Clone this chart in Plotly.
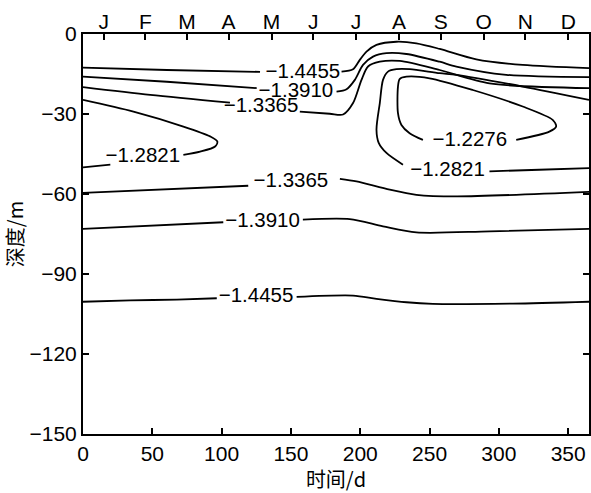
import plotly.graph_objects as go

# ---- contour levels and labels ----
levels = ["−1.4455", "−1.3910", "−1.3365", "−1.2821", "−1.2276"]

# ---- isolines (day, depth); None = break at label ----
l14455_top_x = [0, 60.5, 127.7, None, 186.5, 194.8, 199.7, 204.5, 211.7, 226.1, 240.5, 257.3, 283.7, 317.2, 365]
l14455_top_y = [-12.6, -13.5, -14.2, None, -14.1, -13.2, -9.7, -6.6, -4.1, -2.9, -3.5, -5.6, -9.5, -11.6, -12.8]

l13910_top_x = [0, 60.5, 125.3, None, 182.9, 190.1, 196.1, 202.0, 209.2, 218.9, 233.3, 257.3, 269.3, 305.3, 365]
l13910_top_y = [-16.0, -17.9, -20.3, None, -21.6, -20.7, -17.2, -11.6, -8.5, -7.2, -7.5, -10.4, -12.2, -15.3, -16.2]

l13365_top_x = [0, 48.5, 106, None, 156.4, 178.0, 187.6, 194.8, 200.9, 205.6, 214.1, 228.5, 257.3, 293.2, 365]
l13365_top_y = [-19.9, -22.8, -25.7, None, -29.1, -29.9, -30.2, -25.9, -17.2, -12.2, -10.4, -10.1, -13.5, -18.5, -20.3]

l12821_left_x = [0, 36.4, 72.4, 91.7, 96.9, 95.3, 84.5, 72.4, None, 19.7, 0]
l12821_left_y = [-24.7, -29.1, -34.7, -38.4, -40.3, -42.2, -44.1, -45.3, None, -49.0, -50.0]

l12821_right_x = [365, 317.2, 269.3, 257.3, 235.7, 226.1, 220.0, 216.4, 214.1, 211.7, 213.3, 218.9, 230.8, None, 293.2, 329.2, 365]
l12821_right_y = [-24.7, -19.7, -15.3, -14.7, -13.2, -13.2, -14.1, -17.2, -25.9, -35.9, -40.8, -44.6, -49.0, None, -51.5, -50.9, -50.3]

l12276_x = [312.5, 336.4, 341.3, 338.8, 317.2, 281.2, 250.0, 233.3, 228.4, 227.2, 227.2, 229.7, 235.6, 245.2]
l12276_y = [-39.7, -36.6, -34.7, -32.2, -27.2, -21.0, -16.6, -16.0, -16.9, -19.7, -29.7, -34.1, -37.2, -39.7]

l13365_low_x = [0, 119.2, None, 185.3, 197.3, 221.3, 240.5, 269.3, 365]
l13365_low_y = [-59.6, -56.9, None, -54.3, -55.3, -58.4, -60.3, -60.9, -59.2]

l13910_low_x = [0, 101.2, None, 158.6, 192.4, 216.4, 240.5, 293.2, 365]
l13910_low_y = [-73.1, -70.6, None, -69.6, -69.4, -72.1, -74.4, -74.0, -73.1]

l14455_low_x = [0, 34.1, 67.7, 96.5, None, 154.1, 194.8, 211.7, 233.3, 252.4, 310.0, 365]
l14455_low_y = [-100.4, -99.9, -99.6, -99.1, None, -98.6, -98.1, -99.3, -100.6, -101.2, -101.1, -100.4]

# ---- label positions (day, depth, text) ----
label_x = [158.6, 153.6, 128.4, 43.1, 263.0, 279.0, 150.0, 129.5, 124.8]
label_y = [-14.5, -21.6, -27.4, -45.9, -51.5, -39.9, -55.4, -70.4, -98.6]
label_t = [levels[0], levels[1], levels[2], levels[3], levels[3], levels[4], levels[2], levels[1], levels[0]]

# ---- axes ----
x_ticks = [0, 50, 100, 150, 200, 250, 300, 350]
y_ticks = [0, -30, -60, -90, -120, -150]
month_days = [15, 45, 75, 105, 136, 166, 197, 228, 258, 289, 319, 350]
month_labels = ["J", "F", "M", "A", "M", "J", "J", "A", "S", "O", "N", "D"]

FONT = "Liberation Sans, Arial, sans-serif"
CJK = "Noto Sans CJK SC, Liberation Sans, sans-serif"

fig = go.Figure()
lines = [
    (l14455_top_x, l14455_top_y), (l13910_top_x, l13910_top_y), (l13365_top_x, l13365_top_y),
    (l12821_left_x, l12821_left_y), (l12821_right_x, l12821_right_y), (l12276_x, l12276_y),
    (l13365_low_x, l13365_low_y), (l13910_low_x, l13910_low_y), (l14455_low_x, l14455_low_y),
]
for xs, ys in lines:
    fig.add_trace(go.Scatter(x=xs, y=ys, mode="lines",
                             line=dict(color="black", width=1.8, shape="spline", smoothing=0.8),
                             connectgaps=False, showlegend=False, hoverinfo="skip"))

# invisible trace to carry the top month axis
fig.add_trace(go.Scatter(x=[0, 365], y=[0, -150], xaxis="x2", mode="markers",
                         marker=dict(opacity=0), showlegend=False, hoverinfo="skip"))

fig.add_trace(go.Scatter(x=label_x, y=label_y, text=label_t, mode="text",
                         textfont=dict(family=FONT, size=20.5, color="black"),
                         textposition="middle center", showlegend=False, hoverinfo="skip"))

fig.update_layout(
    width=591, height=493,
    margin=dict(l=83, r=2, t=34, b=59, autoexpand=False),
    paper_bgcolor="white", plot_bgcolor="white",
    font=dict(family=FONT, size=21, color="black"),
    xaxis=dict(range=[0, 365], tickvals=x_ticks, ticks="inside", ticklen=6, tickwidth=1.5,
               tickcolor="black", showline=True, linecolor="black", linewidth=2, mirror=True,
               showgrid=False, zeroline=False, automargin=False,
               title=dict(text="时间/d", font=dict(family=CJK, size=20), standoff=8)),
    xaxis2=dict(range=[0, 365], overlaying="x", side="top", tickvals=month_days,
                ticktext=month_labels, ticks="inside", ticklen=6, tickwidth=1.5,
                tickcolor="black", showgrid=False, zeroline=False, showline=False,
                automargin=False),
    yaxis=dict(range=[-150, 0], tickvals=y_ticks, ticks="inside", ticklen=6, tickwidth=1.5,
               tickcolor="black", showline=True, linecolor="black", linewidth=2, mirror="ticks",
               showgrid=False, zeroline=False, automargin=False,
               title=dict(text="深度/m", font=dict(family=CJK, size=20), standoff=4)),
)

fig.write_html("out.html", config={"displayModeBar": False},
               post_script="document.body.style.margin='0px';document.body.style.overflow='hidden';")
